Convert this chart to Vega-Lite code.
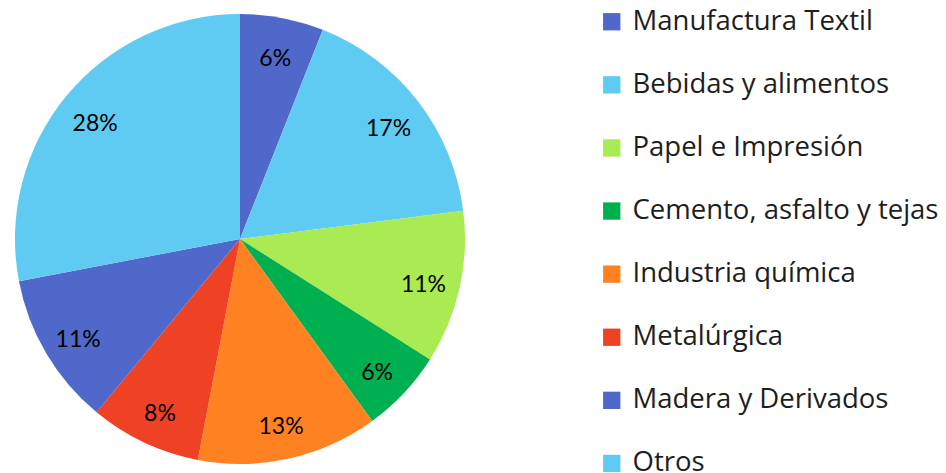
{
  "$schema": "https://vega.github.io/schema/vega-lite/v6.json",
  "width": 450,
  "height": 450,
  "padding": {"left": 15, "top": 14, "right": 481, "bottom": 9},
  "autosize": {"type": "none"},
  "background": "white",
  "config": {"view": {"stroke": null}},
  "data": {
    "values": [
      {"idx": 1, "sector": "Manufactura Textil", "pct": 6},
      {"idx": 2, "sector": "Bebidas y alimentos", "pct": 17},
      {"idx": 3, "sector": "Papel e Impresión", "pct": 11},
      {"idx": 4, "sector": "Cemento, asfalto y tejas", "pct": 6},
      {"idx": 5, "sector": "Industria química", "pct": 13},
      {"idx": 6, "sector": "Metalúrgica", "pct": 8},
      {"idx": 7, "sector": "Madera y Derivados", "pct": 11},
      {"idx": 8, "sector": "Otros", "pct": 28}
    ]
  },
  "transform": [{"calculate": "datum.pct + '%'", "as": "lab"}],
  "encoding": {
    "theta": {"field": "pct", "type": "quantitative", "stack": true},
    "order": {"field": "idx", "type": "quantitative"}
  },
  "layer": [
    {
      "mark": {"type": "arc", "outerRadius": 225},
      "encoding": {
        "color": {
          "field": "sector",
          "type": "nominal",
          "scale": {
            "domain": ["Manufactura Textil", "Bebidas y alimentos", "Papel e Impresión", "Cemento, asfalto y tejas", "Industria química", "Metalúrgica", "Madera y Derivados", "Otros"],
            "range": ["#5068C9", "#5FCBF2", "#AAEA53", "#00AF50", "#FF8222", "#EF4124", "#5068C9", "#5FCBF2"]
          },
          "legend": {
            "title": null,
            "orient": "none",
            "legendX": 583,
            "legendY": -6,
            "symbolType": "square",
            "symbolSize": 300,
            "symbolStrokeWidth": 0,
            "labelFont": "Open Sans",
            "labelFontSize": 27.5,
            "labelColor": "#1e1e1e",
            "labelOffset": 7,
            "labelLimit": 400,
            "rowPadding": 34.1
          }
        }
      }
    },
    {
      "mark": {"type": "text", "radius": 188, "dy": 5, "font": "Lato", "fontSize": 23, "color": "#000000"},
      "encoding": {
        "text": {"field": "lab", "type": "nominal"},
        "detail": {"field": "sector"}
      }
    }
  ]
}
